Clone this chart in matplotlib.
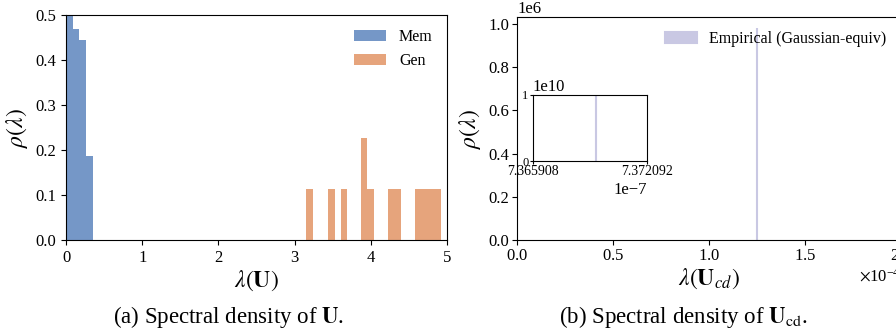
import numpy as np
import matplotlib.pyplot as plt
from matplotlib.ticker import ScalarFormatter

plt.rcParams['font.family'] = ['Liberation Serif', 'DejaVu Serif']
plt.rcParams['mathtext.fontset'] = 'stix'

# panel (a): histogram bins of the eigenvalues of U
bin_w = 0.0876
mem_left = [0.0, 0.0876, 0.1752, 0.2628]
mem_h = [0.50, 0.469, 0.444, 0.187]
gen_left = [3.155, 3.44, 3.605, 3.865, 3.953, 4.225, 4.312, 4.575, 4.662, 4.749, 4.836]
gen_h = [0.113, 0.113, 0.113, 0.227, 0.113, 0.113, 0.113, 0.113, 0.113, 0.113, 0.113]

# panel (b): a single narrow spike
ucd_pos = [1.2485e-4]
ucd_h = [0.983e6]
inset_lim = [7.365908e-7, 7.372092e-7]
inset_pos = [7.369309e-7]
inset_h = [1e10]

c_mem = '#7597c7'
c_gen = '#e6a47c'
c_emp = '#c9c8e3'

fig = plt.figure(figsize=(8.96, 3.35), dpi=100)

ax0 = fig.add_axes([0.0737, 0.2836, 0.4252, 0.6716])
ax0.bar(mem_left, mem_h, width=bin_w, align='edge', color=c_mem, label='Mem')
ax0.bar(gen_left, gen_h, width=bin_w, align='edge', color=c_gen, label='Gen')
ax0.set_xlim(0, 5)
ax0.set_ylim(0, 0.5)
ax0.set_xlabel(r'$\lambda(\mathbf{U})$', fontsize=17, labelpad=2)
ax0.set_ylabel(r'$\rho(\lambda)$', fontsize=17, labelpad=4)
ax0.tick_params(labelsize=12)
ax0.legend(frameon=False, fontsize=11.5, loc='upper right')

ax1 = fig.add_axes([0.577, 0.2836, 0.4286, 0.6657])
ax1.bar(ucd_pos, ucd_h, width=1e-7, color=c_emp, edgecolor=c_emp, linewidth=1.5,
        label='Empirical (Gaussian-equiv)')
ax1.set_xlim(0, 2e-4)
ax1.ticklabel_format(axis='x', style='sci', scilimits=(0, 0), useMathText=True)
ax1.set_xlabel(r'$\lambda(\mathbf{U}_{cd})$', fontsize=17, labelpad=2)
ax1.set_ylabel(r'$\rho(\lambda)$', fontsize=17, labelpad=4)
ax1.tick_params(labelsize=12, pad=2)
ax1.yaxis.get_offset_text().set_fontsize(12)
ax1.xaxis.get_offset_text().set_fontsize(12)
ax1.legend(frameon=False, fontsize=11.5, loc='upper right')

axi = fig.add_axes([0.5945, 0.5194, 0.1276, 0.198])
axi.bar(inset_pos, inset_h, width=1e-12, color=c_emp, edgecolor=c_emp, linewidth=0.8)
axi.set_xlim(inset_lim)
axi.set_ylim(0, 1e10)
axi.set_xticks(inset_lim)
axi.set_yticks([0, 1e10])
fmt = ScalarFormatter(useOffset=False)
fmt.set_scientific(True)
fmt.set_powerlimits((0, 0))
axi.xaxis.set_major_formatter(fmt)
axi.tick_params(labelsize=10, length=2, pad=1)
axi.tick_params(axis='y', labelsize=9)
axi.xaxis.get_offset_text().set_fontsize(12)
axi.yaxis.get_offset_text().set_fontsize(12)

fig.text(0.255, 0.035, r'(a) Spectral density of $\mathbf{U}$.', ha='center', fontsize=16.5)
fig.text(0.763, 0.035, r'(b) Spectral density of $\mathbf{U}_{\mathrm{cd}}$.', ha='center', fontsize=16.5)

fig.savefig('out.png', dpi=100)
